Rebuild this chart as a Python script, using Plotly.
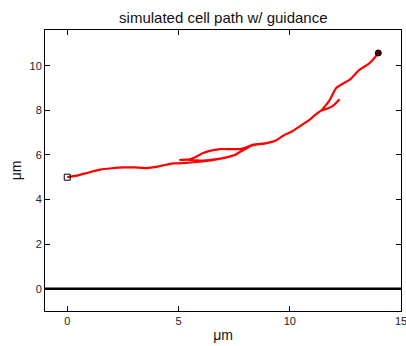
import plotly.graph_objects as go

# Path of the simulated cell (μm)
path_x = [0.0, 0.43, 1.0, 1.48, 2.0, 2.5, 3.0, 3.57, 4.0, 4.3, 4.77, 5.37, 5.8, 6.26, 6.7, 7.16, 7.5, 7.76, 8.0, 8.3,
          8.96, 9.4, 9.7, 10.1, 10.45, 10.9, 11.1, 11.4, 11.7, 11.94, 12.24,
          11.94, 11.7, 11.4, 11.1, 10.9, 10.45, 10.1, 9.7, 9.4, 8.96, 8.35,
          8.0, 7.76, 7.3, 6.86, 6.4, 6.11, 5.8, 5.5, 5.07,
          5.5, 5.8, 6.26, 6.7, 7.16, 7.5, 7.76, 8.0, 8.3,
          8.96, 9.4, 9.7, 10.1, 10.45, 10.9, 11.1, 11.4, 11.6, 11.8, 12.09, 12.4, 12.7, 13.14, 13.5, 13.74, 13.98]
path_y = [5.0, 5.07, 5.22, 5.34, 5.4, 5.44, 5.44, 5.41, 5.46, 5.53, 5.62, 5.64, 5.68, 5.73, 5.8, 5.89, 5.98, 6.13, 6.26, 6.42,
          6.53, 6.66, 6.86, 7.05, 7.28, 7.58, 7.76, 7.98, 8.08, 8.2, 8.5,
          8.2, 8.08, 7.98, 7.76, 7.58, 7.28, 7.05, 6.86, 6.66, 6.53, 6.46,
          6.32, 6.26, 6.26, 6.26, 6.18, 6.08, 5.92, 5.8, 5.78,
          5.78, 5.75, 5.76, 5.81, 5.89, 5.98, 6.13, 6.26, 6.42,
          6.53, 6.66, 6.86, 7.05, 7.28, 7.58, 7.76, 7.98, 8.2, 8.47, 9.0, 9.2, 9.37, 9.82, 10.05, 10.27, 10.57]

start_x, start_y = [0.0], [5.0]
end_x, end_y = [13.98], [10.57]
base_x, base_y = [-1, 15], [0, 0]

x_ticks = [0, 5, 10, 15]
y_ticks = [0, 2, 4, 6, 8, 10]

FONT = "Liberation Sans, Arial, sans-serif"

fig = go.Figure()
fig.add_trace(go.Scatter(x=base_x, y=base_y, mode="lines",
                         line=dict(color="black", width=2.5), hoverinfo="skip"))
fig.add_trace(go.Scatter(x=path_x, y=path_y, mode="lines",
                         line=dict(color="#ff0000", width=2.2, shape="spline", smoothing=0.6)))
fig.add_trace(go.Scatter(x=start_x, y=start_y, mode="markers",
                         marker=dict(symbol="square-open", size=6, color="black", line=dict(width=1))))
fig.add_trace(go.Scatter(x=end_x, y=end_y, mode="markers",
                         marker=dict(symbol="circle", size=6, color="#5a0000", line=dict(color="black", width=1))))

axis_common = dict(showline=True, linecolor="black", linewidth=1, mirror="ticks",
                   ticks="inside", ticklen=5, tickcolor="black", showgrid=False, zeroline=False,
                   ticklabeloverflow="allow", automargin=False,
                   tickfont=dict(family=FONT, size=11, color="#222"))

fig.update_layout(
    width=406, height=346,
    margin=dict(l=45, r=5, t=30, b=35),
    paper_bgcolor="white", plot_bgcolor="white",
    showlegend=False,
    title=dict(text="simulated cell path w/ guidance", x=0.55, xanchor="center", y=0.95, yanchor="middle",
               font=dict(family=FONT, size=15, color="#111")),
    xaxis=dict(range=[-1, 15], tickvals=x_ticks,
               title=dict(text="μm", standoff=3, font=dict(family=FONT, size=14, color="#111")),
               **axis_common),
    yaxis=dict(range=[-1, 11.6], tickvals=y_ticks,
               title=dict(text="μm", standoff=4, font=dict(family=FONT, size=14, color="#111")),
               **axis_common),
)

fig.write_html("out.html")
